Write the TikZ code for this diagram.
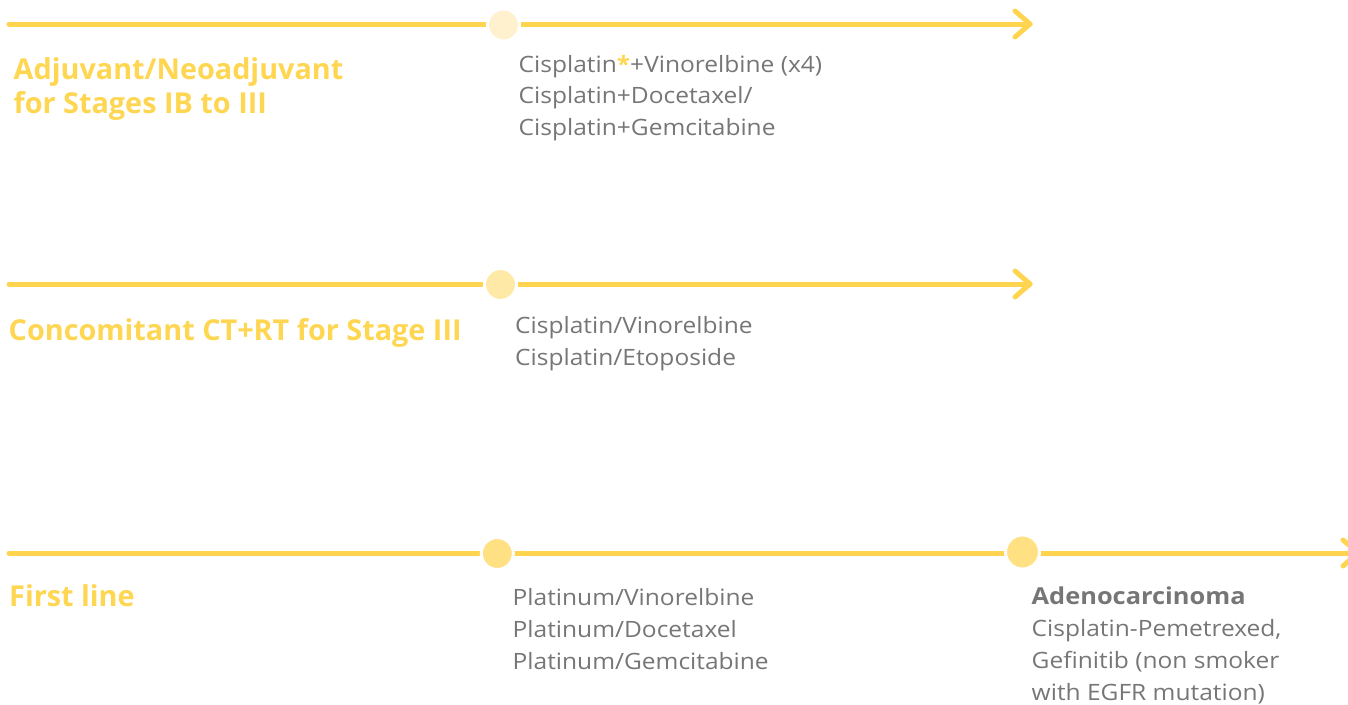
\documentclass[tikz,border=0pt]{standalone}
\usepackage{fontspec}
\setmainfont{Open Sans}
\newfontfamily\grfont[FakeStretch=1.09]{Open Sans}
\newfontfamily\gbfont[FakeStretch=1.09]{Open Sans Bold}
\definecolor{ln}{HTML}{FFD550}
\definecolor{ytxt}{HTML}{FFD652}
\definecolor{gtxt}{HTML}{767676}
\definecolor{cA}{HTML}{FFF1CE}
\definecolor{cB}{HTML}{FFE9A6}
\definecolor{cC}{HTML}{FFE083}
\tikzset{
  tl/.style={draw=ln, line width=5pt, line cap=round},
  chev/.style={draw=ln, line width=5pt, line cap=round, line join=round},
  dot/.style={circle, inner sep=0pt, draw=white, line width=3pt},
  ylab/.style={anchor=base west, inner sep=0pt, align=left, text=ytxt, font=\fontsize{28.8}{33.6}\selectfont\bfseries},
  glab/.style={anchor=base west, inner sep=0pt, align=left, text=gtxt, font=\grfont\fontsize{22.5}{31.7}\selectfont},
}
\begin{document}
\begin{tikzpicture}[x=1pt,y=-1pt]
\useasboundingbox (0,0) rectangle (1348,704);
\clip (0,0) rectangle (1348,704);
% row 1
\coordinate (s1) at (9,24);
\coordinate (e1) at (1030,24);
\draw[tl] (s1) -- (e1);
\draw[chev] (e1) ++(-15,-13) -- (e1) -- ++(-15,13);
\node[dot, fill=cA, minimum size=32pt] (c1) at (503.5,25) {};
\node[ylab] (y1) at (13.5,113.1) {Adjuvant/Neoadjuvant\\for Stages IB to III};
\node[glab] (g1) at (518.5,135.4) {Cisplatin{\color{ytxt}\bfseries*}+Vinorelbine (x4)\\Cisplatin+Docetaxel/\\Cisplatin+Gemcitabine};
% row 2
\coordinate (s2) at (9,284);
\coordinate (e2) at (1030,284);
\draw[tl] (s2) -- (e2);
\draw[chev] (e2) ++(-15,-13) -- (e2) -- ++(-15,13);
\node[dot, fill=cB, minimum size=32pt] (c2) at (500.5,284.5) {};
\node[ylab] (y2) at (8.5,340) {Concomitant CT+RT for Stage III};
\node[glab] (g2) at (515,365) {Cisplatin/Vinorelbine\\Cisplatin/Etoposide};
% row 3
\coordinate (s3) at (9,553);
\coordinate (e3) at (1358,553);
\draw[tl] (s3) -- (e3);
\draw[chev] (e3) ++(-15,-13) -- (e3) -- ++(-15,13);
\node[dot, fill=cC, minimum size=32pt] (c3) at (497.3,553.5) {};
\node[dot, fill=cC, minimum size=34pt] (c4) at (1022.5,552) {};
\node[ylab] (y3) at (9,606.5) {First line};
\node[glab] (g3) at (512.5,669.1) {Platinum/Vinorelbine\\Platinum/Docetaxel\\Platinum/Gemcitabine};
\node[glab, font=\grfont\fontsize{22.5}{32}\selectfont] (g4) at (1031.5,700) {{\gbfont\fontsize{23.3}{32}\selectfont Adenocarcinoma}\\Cisplatin-Pemetrexed,\\Gefinitib (non smoker\\with EGFR mutation)};
\end{tikzpicture}
\end{document}
